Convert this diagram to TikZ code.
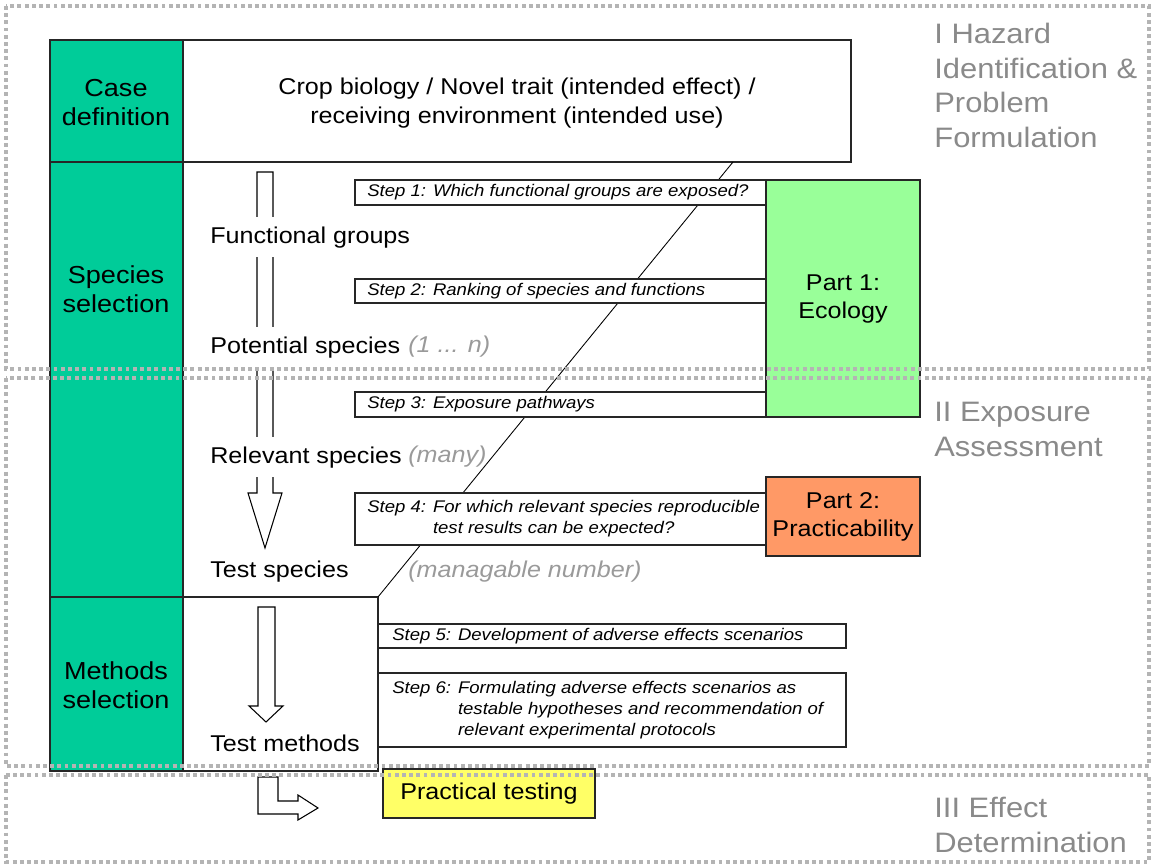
\documentclass[tikz,border=0pt]{standalone}
\usepackage{fontspec}
\setmainfont{Liberation Sans}[FakeStretch=1.1]
\usetikzlibrary{positioning}
\definecolor{caseGreen}{HTML}{00CC99}
\definecolor{ecoGreen}{HTML}{99FF99}
\definecolor{practOrange}{HTML}{FF9966}
\definecolor{testYellow}{HTML}{FFFF66}
\definecolor{frameGray}{HTML}{B4B4B4}
\definecolor{phaseGray}{HTML}{8A8A8A}
\definecolor{noteGray}{HTML}{9A9A9A}

\tikzset{
  cell/.style={draw=black!85, line width=0.6pt, fill=caseGreen},
  plainbox/.style={draw=black!85, line width=0.6pt, fill=white},
  stepbox/.style={draw=black!85, line width=0.6pt, fill=white},
  steptext/.style={anchor=west, inner sep=0pt, align=left, font=\fontsize{9.6}{12}\selectfont\itshape},
  celltext/.style={align=center, inner sep=0pt, font=\fontsize{14}{16.5}\selectfont},
  parttext/.style={align=center, inner sep=0pt, font=\fontsize{13}{16}\selectfont},
  stagetext/.style={anchor=west, fill=white, inner xsep=0pt, inner ysep=4pt, text height=11pt, text depth=3.5pt, font=\fontsize{13}{16}\selectfont},
  note/.style={anchor=west, inner sep=0pt, text=noteGray, font=\fontsize{13}{16}\selectfont\itshape},
  blockarrow/.style={draw=black, line width=0.6pt, fill=white},
  phase/.style={draw=frameGray, line width=2pt, dash pattern=on 2.2pt off 1.9pt},
  phasetext/.style={anchor=north west, align=left, inner sep=0pt, text=phaseGray, font=\fontsize{16}{19.7}\selectfont},
}

\begin{document}
\begin{tikzpicture}[x=0.02cm, y=-0.02cm]
\useasboundingbox (0,0) rectangle (1154,864);

% left column
\draw[cell] (50,40) rectangle (183,162);
\draw[cell] (50,162) rectangle (183,597);
\draw[cell] (50,597) rectangle (183,771);
\node[celltext] (casedef) at (116,103) {Case\\definition};
\node[celltext] (specsel) at (116,289) {Species\\selection};
\node[celltext] (methsel) at (116,685) {Methods\\selection};

% case box, methods box
\draw[plainbox] (183,40) rectangle (851,162);
\node[parttext, font=\fontsize{13}{16.5}\selectfont] (crop) at (517,103)
  {Crop biology / Novel trait (intended effect) /\\receiving environment (intended use)};
\draw[plainbox] (183,597) rectangle (378,771);

\coordinate (diagtop) at (733,162);
\coordinate (methcorner) at (378,597);
\draw[line width=0.5pt] (diagtop) -- (methcorner);

% steps
\draw[stepbox] (355,180) rectangle (766,205);
\node[steptext] (step1) at (367,192.5) {Step 1: Which functional groups are exposed?};
\draw[stepbox] (355,279) rectangle (766,303);
\node[steptext] (step2) at (367,291) {Step 2: Ranking of species and functions};
\draw[stepbox] (355,392) rectangle (766,417);
\node[steptext] (step3) at (367,404.5) {Step 3: Exposure pathways};
\draw[stepbox] (355,493) rectangle (766,545);
\node[steptext] (step4) at (367,519)
  {Step 4: For which relevant species reproducible\\\phantom{Step 4: }test results can be expected?};
\draw[stepbox] (378,624) rectangle (846,648);
\node[steptext] (step5) at (392,636) {Step 5: Development of adverse effects scenarios};
\draw[stepbox] (378,673) rectangle (846,747);
\node[steptext] (step6) at (392,710)
  {Step 6: Formulating adverse effects scenarios as\\\phantom{Step 6: }testable hypotheses and recommendation of\\\phantom{Step 6: }relevant experimental protocols};

% parts
\draw[cell, fill=ecoGreen] (766,180) rectangle (920,417);
\node[parttext] (part1) at (843,299) {Part 1:\\Ecology};
\draw[cell, fill=practOrange] (766,477) rectangle (920,556);
\node[parttext] (part2) at (843,517) {Part 2:\\Practicability};

% block arrows
\draw[blockarrow] (257,172) -- (273,172) -- (273,493) -- (282,493) -- (265,548)
  -- (248,493) -- (257,493) -- cycle;
\draw[blockarrow] (258,607) -- (275,607) -- (275,706) -- (283,706) -- (266,722)
  -- (249,706) -- (258,706) -- cycle;
\draw[blockarrow] (258,777) -- (278,777) -- (278,801) -- (298,801) -- (298,795)
  -- (318,808) -- (298,820) -- (298,814) -- (258,814) -- cycle;

% stages
\node[stagetext] (funcgroups) at (210,237) {Functional groups};
\node[stagetext] (potspecies) at (210,347) {Potential species};
\node[note] (potnote) at (408,347) {(1 ... n)};
\node[stagetext] (relspecies) at (210,457) {Relevant species};
\node[note] (relnote) at (408,457) {(many)};
\node[stagetext] (testspecies) at (210,571) {Test species};
\node[note] (testnote) at (408,572) {(managable number)};
\node[stagetext] (testmethods) at (210,745) {Test methods};

\draw[cell, fill=testYellow] (383,769) rectangle (595,818);
\node[parttext] (practest) at (489,794) {Practical testing};

% phase frames
\draw[phase] (6,6) rectangle (1149,369);
\draw[phase] (6,378) rectangle (1149,766);
\draw[phase] (6,775) rectangle (1149,862);
\node[phasetext] (phase1) at (934,23) {I Hazard\\Identification \&\\Problem\\Formulation};
\node[phasetext] (phase2) at (934,402) {II Exposure\\Assessment};
\node[phasetext] (phase3) at (934,797) {III Effect\\Determination};
\end{tikzpicture}
\end{document}
